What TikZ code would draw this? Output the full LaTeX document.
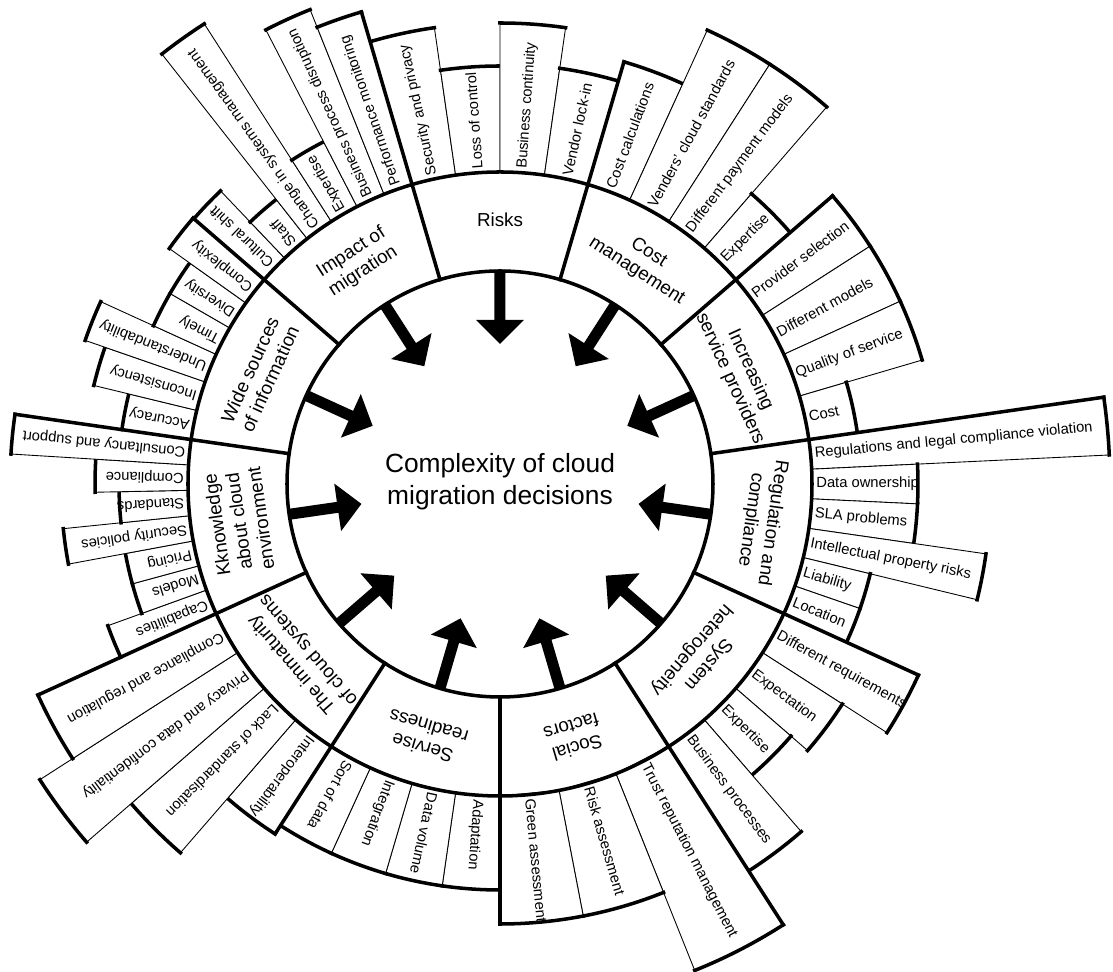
\documentclass[tikz,border=0pt]{standalone}
\usepackage{fontspec}
\setmainfont{Liberation Sans}
\begin{document}
\begin{tikzpicture}[x=0.02cm, y=0.02cm,
  thickline/.style={line width=2pt, line cap=rect},
  thinline/.style={line width=0.5pt},
  bartext/.style={font=\fontsize{8.4}{10}\selectfont, anchor=west, inner sep=0pt},
  sectext/.style={font=\fontsize{10.7}{12.6}\selectfont, align=center, inner sep=0pt},
  hubtext/.style={font=\fontsize{15}{18}\selectfont, align=center, inner sep=0pt}
]
\useasboundingbox[fill=white] (-500,-488) rectangle (613,484);

% radii: inner disc and the ring of factor names
\def\Rin{213}
\def\Rmid{312}

% factor groups: index / number of items / group name / items (name/outer radius)
\def\factors{
0/4/{Risks}/{Security and privacy/461, Loss of control/418, Business continuity/461, Vendor lock-in/420},
1/4/{Cost\\management}/{Cost calculations/440, Venders' cloud standards/499, Different payment models/499, Expertise/384},
2/4/{Increasing\\service providers}/{Provider selection/440, Different models/440, Quality of service/440, Cost/361},
3/6/{Regulation and\\compliance}/{Regulations and legal compliance violation/610, Data ownership/418, SLA problems/418, Intellectual property risks/491, Liability/381, Location/381},
4/4/{System\\heterogeneity}/{Different requirements/460, Expectation/407, Expertise/385, Business processes/460},
5/3/{Social\\factors}/{Trust reputation management/524, Risk assessment/440, Green assessment/440},
6/4/{Servise\\readiness}/{Adaptation/406, Data volume/406, Integration/406, Sort of data/406},
7/4/{The immaturity\\of cloud systems}/{Interoperability/416, Lack of standardisation/488, Privacy and data confidentiality/547, Compliance and regulation/508},
8/7/{Kknowledge\\about cloud\\environment}/{Capabilities/417, Models/381, Pricing/381, Security policies/439, Standards/381, Compliance/405, Consultancy and support/490},
9/6/{Wide sources\\of information}/{Accuracy/382, Inconsistency/418, Understandability/439, Timely/381, Diversity/381, Complexity/406},
10/6/{Impact of\\migration}/{Cultural shift/405, Staff/362, Change in systems management/547, Expertise/385, Business process disruption/511, Performance monitoring/492}}

% outer bars with their labels
\foreach \k/\n/\lab/\items in \factors {
  \pgfmathsetmacro\astart{106.3636-\k*32.7273}
  \pgfmathsetmacro\w{32.7273/\n}
  \foreach \btxt/\brad [count=\i from 0] in \items {
    \pgfmathsetmacro\aa{\astart-\i*\w}
    \pgfmathsetmacro\ab{\astart-(\i+1)*\w}
    \pgfmathsetmacro\am{\astart-(\i+0.5)*\w}
    \draw[thinline, fill=white] (\aa:\Rmid) -- (\aa:\brad)
      arc[start angle=\aa, end angle=\ab, radius=\brad] -- (\ab:\Rmid) -- cycle;
    \draw[thickline] (\aa:\brad) arc[start angle=\aa, end angle=\ab, radius=\brad];
    \node[bartext, rotate=\am] (bar-\k-\i) at (\am:316) {\btxt};
  }
}

% ring and disc outlines
\draw[thickline] (0,0) circle[radius=\Rmid];
\draw[thickline] (0,0) circle[radius=\Rin];

% group boundaries, running out to the longer neighbouring bar
\foreach \j/\len in {0/492, 1/440, 2/440, 3/610, 4/460, 5/524, 6/440, 7/416, 8/508, 9/490, 10/406} {
  \pgfmathsetmacro\ang{106.3636-\j*32.7273}
  \draw[thickline] (\ang:\Rin) -- (\ang:\len);
}

% group names and the inward arrows
\foreach \k/\n/\lab/\items in \factors {
  \pgfmathsetmacro\amid{90-\k*32.7273}
  \node[sectext, rotate=\amid-90] (sec-\k) at (\amid:264) {\lab};
  \fill[rotate=\amid] (214,-5.5) -- (164,-5.5) -- (164,-24) -- (140,0)
    -- (164,24) -- (164,5.5) -- (214,5.5) -- cycle;
}

\node[hubtext] (hub) at (0,2) {Complexity of cloud\\migration decisions};
\end{tikzpicture}
\end{document}
